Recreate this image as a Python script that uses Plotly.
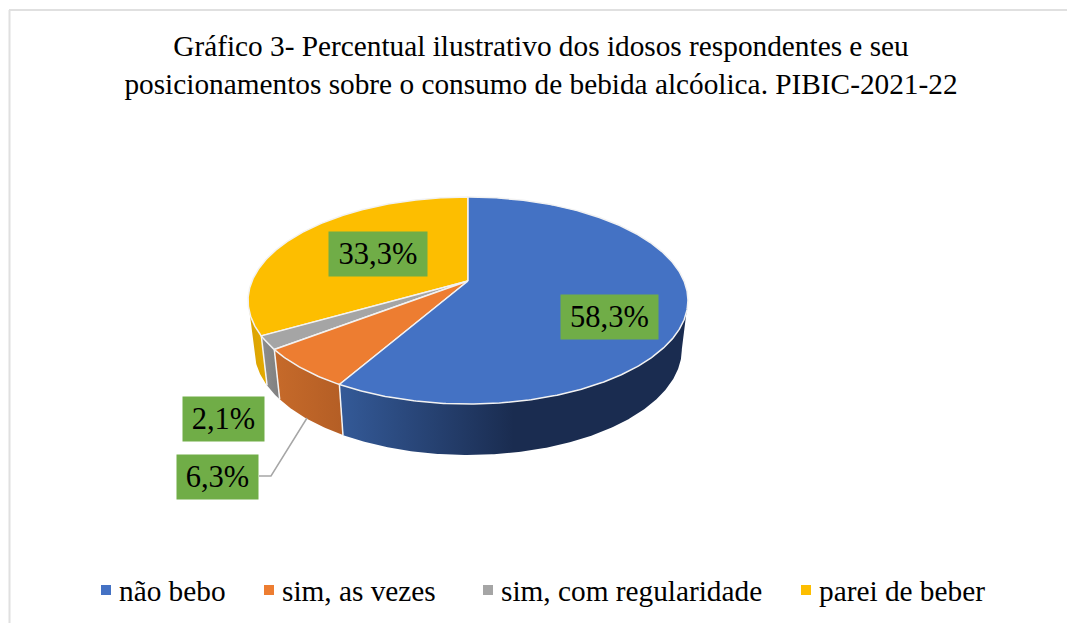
import numpy as np
import plotly.graph_objects as go

# ---- data ----
categories = ["não bebo", "sim, as vezes", "sim, com regularidade", "parei de beber"]
values = [58.3, 6.3, 2.1, 33.3]
top_colors = ["#4472C4", "#ED7D31", "#A5A5A5", "#FDBE00"]
side_scales = [
    [[0, "#345A98"], [0.5, "#1A2C50"], [1, "#1A2C50"]],
    [[0, "#C66A2A"], [1, "#B45E25"]],
    [[0, "#8E8E8E"], [1, "#7F7F7F"]],
    [[0, "#D9A204"], [1, "#E5AB00"]],
]
title_lines = ["Gráfico 3- Percentual ilustrativo dos idosos respondentes e seu",
               "posicionamentos sobre o consumo de bebida alcóolica. PIBIC-2021-22"]

# ---- layout of the tilted pie (screen axis units) ----
CX, R_TOP, R_BOT, K = 468, 216, 210, 0.1884
TOP_A, TOP_B = 281, -46.9
BOT_A, BOT_B = 329.3, -40
SIL = np.degrees(np.arccos(-K))            # silhouette angle of the disc
FONT = "Liberation Serif"
W, H = 1067, 623


def rim(theta_deg, radius, a, b):
    t = np.radians(theta_deg)
    X, Y = np.sin(t), np.cos(t)
    w = 1 + K * Y
    return CX + radius * X / w, (a + b * Y) / w


def arc(t0, t1, radius, a, b):
    return rim(np.linspace(t0, t1, max(int(abs(t1 - t0) * 2), 4)), radius, a, b)


edges = np.cumsum([0] + values) * 3.6
fig = go.Figure()

# side walls (only the visible front part of each slice)
for i in range(4):
    t0, t1 = edges[i], edges[i + 1]
    t0v, t1v = max(t0, SIL), min(t1, 360 - SIL)
    if t1v <= t0v:
        continue
    tx, ty = arc(t0v, t1v, R_TOP, TOP_A, TOP_B)
    bx, by = arc(t1v, t0v, R_BOT, BOT_A, BOT_B)
    xs = np.r_[tx, bx, tx[0]]
    ys = np.r_[ty, by, ty[0]]
    fig.add_trace(go.Scatter(
        x=xs, y=ys, mode="lines", fill="toself", line=dict(width=0),
        fillgradient=dict(type="horizontal", colorscale=side_scales[i],
                          start=float(xs.min()), stop=float(xs.max())),
        hoverinfo="skip", showlegend=False))

# white seams between the walls
for t in edges[1:4]:
    px, py = rim(t, R_TOP, TOP_A, TOP_B)
    qx, qy = rim(t, R_BOT, BOT_A, BOT_B)
    fig.add_trace(go.Scatter(x=[px, qx], y=[py, qy], mode="lines",
                             line=dict(color="#F4F4F4", width=1.5),
                             hoverinfo="skip", showlegend=False))

# top faces
for i in [3, 2, 1, 0]:
    ax, ay = arc(edges[i], edges[i + 1], R_TOP, TOP_A, TOP_B)
    fig.add_trace(go.Scatter(
        x=np.r_[CX, ax, CX], y=np.r_[TOP_A, ay, TOP_A], mode="lines", fill="toself",
        fillcolor=top_colors[i], line=dict(color="#F2F2F2", width=1.5),
        hoverinfo="skip", showlegend=False))

# leader line of the 6,3% label
leader_x = [259, 271, 307]
leader_y = [476, 476, 418]
fig.add_trace(go.Scatter(x=leader_x, y=leader_y, mode="lines",
                         line=dict(color="#A6A6A6", width=1.5),
                         hoverinfo="skip", showlegend=False))

# data labels: centre x, centre y, box width
label_pos = [(609.5, 316.5, 97), (217.5, 476.5, 81), (223.5, 418.5, 81), (378, 253.5, 98)]
for v, (lx, ly, lw) in zip(values, label_pos):
    fig.add_annotation(x=lx, y=ly, xref="x", yref="y", showarrow=False,
                       text=f"{v:.1f}%".replace(".", ","),
                       font=dict(family=FONT, size=30.5, color="#000000"),
                       bgcolor="#70AD47", width=lw, height=44, borderpad=0,
                       align="center", valign="middle")

# legend row
legend_x = [106, 269, 488, 806]
LEG_Y = 591
for name, c, lx in zip(categories, top_colors, legend_x):
    fig.add_trace(go.Scatter(x=[lx], y=[LEG_Y - 1], mode="markers",
                             marker=dict(symbol="square", size=10, color=c),
                             hoverinfo="skip", showlegend=False))
    fig.add_annotation(x=lx + 11, y=LEG_Y, xref="x", yref="y", xanchor="left",
                       showarrow=False, text=name,
                       font=dict(family=FONT, size=29.3, color="#000000"))

fig.update_layout(
    width=W, height=H,
    margin=dict(l=0, r=0, t=0, b=0),
    paper_bgcolor="white", plot_bgcolor="white",
    showlegend=False,
    title=dict(text="<br>".join(title_lines), x=541 / W, xanchor="center",
               y=1 - 56 / H, yanchor="top",
               font=dict(family=FONT, size=29.3, color="#000000")),
    xaxis=dict(range=[0, W], visible=False, fixedrange=True),
    yaxis=dict(range=[H, 0], visible=False, fixedrange=True),
    shapes=[
        dict(type="line", xref="x", yref="y", x0=9.5, x1=9.5, y0=10, y1=H,
             line=dict(color="#E0E0E0", width=2), layer="below"),
        dict(type="line", xref="x", yref="y", x0=9, x1=W, y0=10, y1=10,
             line=dict(color="#E0E0E0", width=2), layer="below"),
    ],
)
fig.write_html("out.html", config={"displayModeBar": False},
               post_script="document.body.style.margin='0';document.documentElement.style.overflow='hidden';")
